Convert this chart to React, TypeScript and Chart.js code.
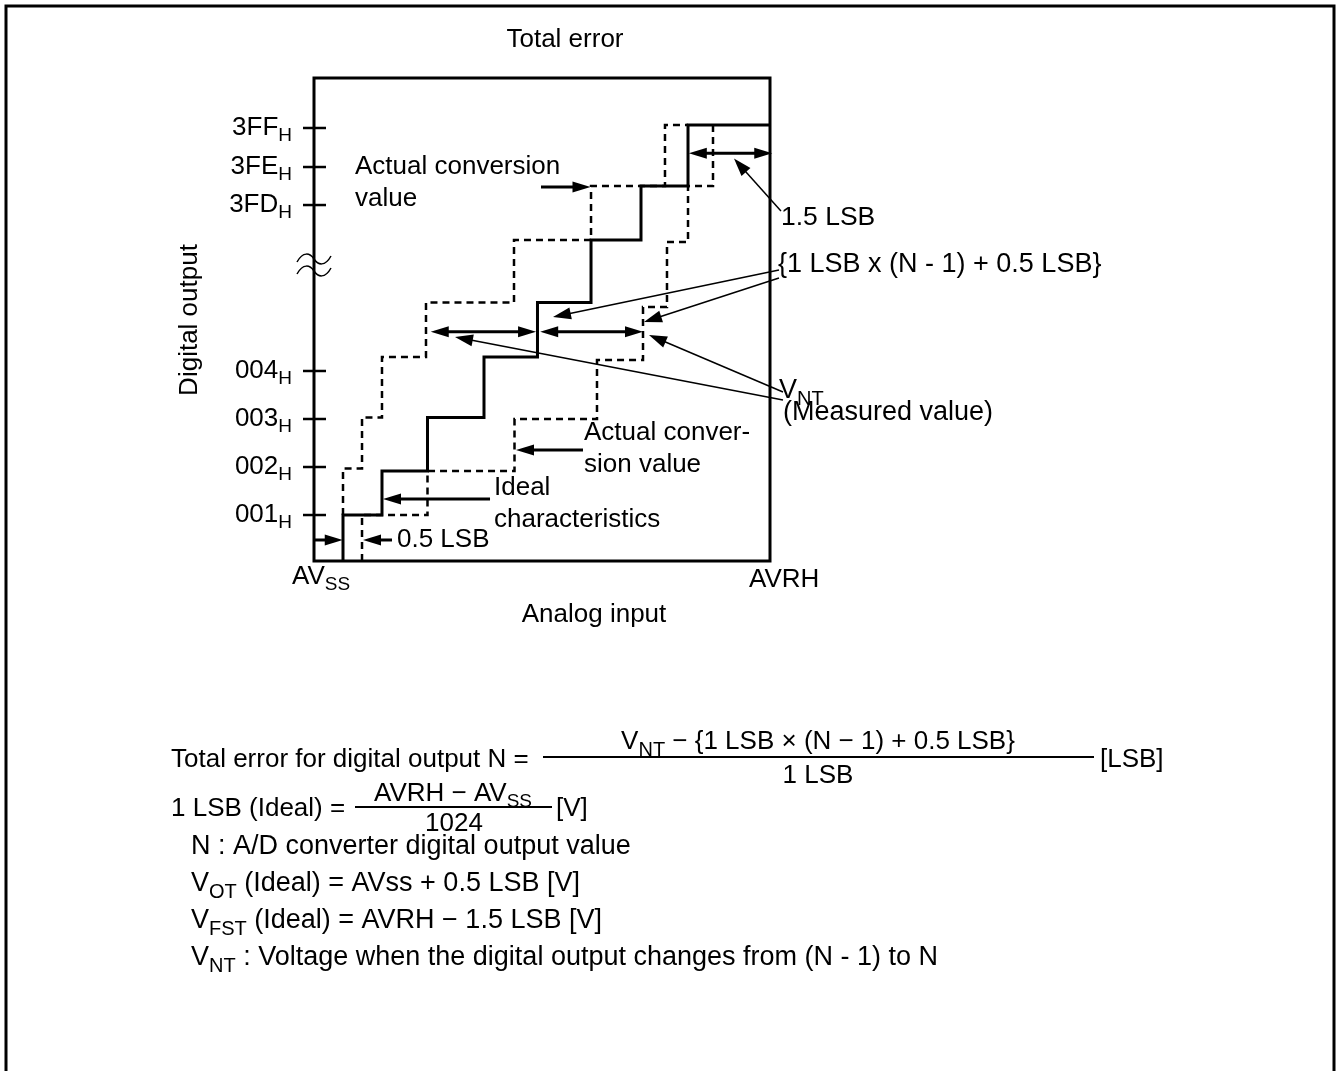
import React, { useEffect, useRef } from "react";
import { Chart, registerables } from "chart.js";
Chart.register(...registerables);

const W = 1336;
const H = 1071;

// x: analog input (0 = AVss, 100 = AVRH), y: schematic output-code scale
const X_MIN = 0;
const X_MAX = 100;
const Y_MIN = 0;
const Y_MAX = 10;

// Y-axis code labels and positions
const codeLabels = ["001", "002", "003", "004", "3FD", "3FE", "3FF"];
const codeValues = [0.952, 1.946, 2.94, 3.934, 7.37, 8.157, 8.965];

// Ideal characteristics (solid staircase): transition inputs / output levels
const idealX = [6.36, 14.91, 24.89, 37.28, 49.01, 60.75, 71.71, 82.02, 100];
const idealY = [0, 0.952, 1.863, 2.971, 4.224, 5.352, 6.646, 7.764, 9.027];

// Actual conversion value, upper-left (dashed)
const upperX = [6.36, 10.53, 14.91, 24.56, 43.86, 60.75, 76.97, 82.02];
const upperY = [0.952, 1.913, 2.971, 4.224, 5.352, 6.646, 7.764, 9.027];

// Actual conversion value, lower-right (dashed)
const lowerX = [10.53, 24.89, 43.97, 62.06, 72.15, 77.41, 82.02, 87.5, 87.5];
const lowerY = [0, 0.952, 1.863, 2.94, 4.161, 5.259, 6.605, 7.764, 9.027];

// Annotation arrows in data coordinates: [x1, y1, x2, y2, headAtStart, headAtEnd, thin]
const arrows: [number, number, number, number, boolean, boolean, boolean][] = [
  [82.2, 8.441, 100.5, 8.441, true, true, false], // 1.5 LSB
  [102.4, 7.246, 92.1, 8.333, false, true, true], // 1.5 LSB leader
  [49.78, 7.743, 60.64, 7.743, false, true, false], // actual conversion value
  [101.97, 6.025, 52.41, 5.052, false, true, true], // {..} leader 1
  [101.97, 5.859, 72.37, 4.948, false, true, true], // {..} leader 2
  [25.6, 4.747, 48.7, 4.747, true, true, false], // double arrow A
  [49.6, 4.747, 72.15, 4.747, true, true, false], // double arrow B
  [102.85, 3.333, 30.92, 4.638, false, true, true], // VNT leader 1
  [102.85, 3.499, 73.46, 4.679, false, true, true], // VNT leader 2
  [58.99, 2.298, 44.3, 2.298, false, true, false], // actual conver- sion value
  [38.6, 1.284, 15.13, 1.284, false, true, false], // ideal characteristics
  [0, 0.435, 6.3, 0.435, false, true, false], // 0.5 LSB right-pointing
  [17.1, 0.435, 10.75, 0.435, false, true, false], // 0.5 LSB left-pointing
];

type Seg = { t: string; sub?: boolean };
const FONT = '"Liberation Sans", Arial, Helvetica, sans-serif';
const SIZE = 26;
const SUB = 19;
const SUBDY = 8;

function segWidth(ctx: CanvasRenderingContext2D, segs: Seg[], size = SIZE, sub = SUB) {
  let w = 0;
  for (const s of segs) {
    ctx.font = `${s.sub ? sub : size}px ${FONT}`;
    w += ctx.measureText(s.t).width;
  }
  return w;
}

function drawRich(
  ctx: CanvasRenderingContext2D,
  segs: Seg[],
  x: number,
  y: number,
  align: "left" | "center" | "right" = "left",
  size = SIZE,
  sub = SUB,
  subDy = SUBDY
) {
  const w = segWidth(ctx, segs, size, sub);
  let cx = align === "left" ? x : align === "center" ? x - w / 2 : x - w;
  ctx.textAlign = "left";
  ctx.textBaseline = "middle";
  for (const s of segs) {
    ctx.font = `${s.sub ? sub : size}px ${FONT}`;
    ctx.fillText(s.t, cx, s.sub ? y + subDy : y);
    cx += ctx.measureText(s.t).width;
  }
}

function head(ctx: CanvasRenderingContext2D, tx: number, ty: number, fx: number, fy: number, len: number, half: number) {
  const a = Math.atan2(ty - fy, tx - fx);
  const c = Math.cos(a);
  const s = Math.sin(a);
  ctx.beginPath();
  ctx.moveTo(tx, ty);
  ctx.lineTo(tx - len * c + half * s, ty - len * s - half * c);
  ctx.lineTo(tx - len * c - half * s, ty - len * s + half * c);
  ctx.closePath();
  ctx.fill();
}

const annotPlugin = {
  id: "annot",
  afterDatasetsDraw(chart: any) {
    const ctx: CanvasRenderingContext2D = chart.ctx;
    const xs = chart.scales.x;
    const ys = chart.scales.y;
    const ca = chart.chartArea;
    const px = (v: number) => xs.getPixelForValue(v);
    const py = (v: number) => ys.getPixelForValue(v);
    ctx.save();
    ctx.strokeStyle = "#000";
    ctx.fillStyle = "#000";

    // outer frame
    ctx.lineWidth = 3;
    ctx.beginPath();
    ctx.moveTo(6, H + 5);
    ctx.lineTo(6, 6);
    ctx.lineTo(1334, 6);
    ctx.lineTo(1334, H + 5);
    ctx.stroke();

    // plot box
    ctx.lineWidth = 3;
    ctx.strokeRect(ca.left, ca.top, ca.right - ca.left, ca.bottom - ca.top);

    // y ticks + labels
    ctx.lineWidth = 2.5;
    codeValues.forEach((v, i) => {
      const y = py(v);
      ctx.beginPath();
      ctx.moveTo(ca.left - 11, y);
      ctx.lineTo(ca.left + 12, y);
      ctx.stroke();
      drawRich(ctx, [{ t: codeLabels[i] }, { t: "H", sub: true }], ca.left - 22, y, "right");
    });

    // axis break symbol
    ctx.lineWidth = 1.5;
    [259, 271].forEach((yy) => {
      const x = ca.left;
      ctx.beginPath();
      ctx.moveTo(x - 17, yy + 3);
      ctx.bezierCurveTo(x - 11, yy - 8, x - 4, yy - 6, x, yy);
      ctx.bezierCurveTo(x + 4, yy + 6, x + 11, yy + 8, x + 17, yy - 3);
      ctx.stroke();
    });

    // arrows
    arrows.forEach(([x1, y1, x2, y2, hs, he, thin]) => {
      const ax = px(x1), ay = py(y1), bx = px(x2), by = py(y2);
      const len = 18;
      const half = thin ? 6 : 5.5;
      const d = Math.hypot(bx - ax, by - ay);
      const ux = (bx - ax) / d, uy = (by - ay) / d;
      const sx = hs ? ax + ux * (len - 2) : ax;
      const sy = hs ? ay + uy * (len - 2) : ay;
      const ex = he ? bx - ux * (len - 2) : bx;
      const ey = he ? by - uy * (len - 2) : by;
      ctx.lineWidth = thin ? 1.5 : 3;
      ctx.beginPath();
      ctx.moveTo(sx, sy);
      ctx.lineTo(ex, ey);
      ctx.stroke();
      if (he) head(ctx, bx, by, ax, ay, len, half);
      if (hs) head(ctx, ax, ay, bx, by, len, half);
    });

    // texts in/around plot
    drawRich(ctx, [{ t: "Total error" }], 565, 40, "center");
    ctx.save();
    ctx.translate(190, 320);
    ctx.rotate(-Math.PI / 2);
    drawRich(ctx, [{ t: "Digital output" }], 0, 0, "center");
    ctx.restore();
    drawRich(ctx, [{ t: "AV" }, { t: "SS", sub: true }], 292, 577, "left");
    drawRich(ctx, [{ t: "AVRH" }], 749, 580, "left");
    drawRich(ctx, [{ t: "Analog input" }], 594, 615, "center");

    drawRich(ctx, [{ t: "Actual conversion" }], 355, 167);
    drawRich(ctx, [{ t: "value" }], 355, 199);
    drawRich(ctx, [{ t: "Actual conver-" }], 584, 433);
    drawRich(ctx, [{ t: "sion value" }], 584, 465);
    drawRich(ctx, [{ t: "Ideal" }], 494, 488);
    drawRich(ctx, [{ t: "characteristics" }], 494, 520);
    drawRich(ctx, [{ t: "0.5 LSB" }], 397, 540);
    drawRich(ctx, [{ t: "1.5 LSB" }], 781, 218, "left", 26.5);
    drawRich(ctx, [{ t: "{1 LSB x (N - 1) + 0.5 LSB}" }], 778, 265, "left", 27);
    drawRich(ctx, [{ t: "V" }, { t: "NT", sub: true }], 779, 391, "left", 27, 20);
    drawRich(ctx, [{ t: "(Measured value)" }], 783, 413, "left", 27);

    // formula block
    drawRich(ctx, [{ t: "Total error for digital output N =" }], 171, 760);
    ctx.lineWidth = 2;
    ctx.beginPath();
    ctx.moveTo(543, 757);
    ctx.lineTo(1094, 757);
    ctx.stroke();
    drawRich(ctx, [{ t: "V" }, { t: "NT", sub: true }, { t: " \u2212 {1 LSB \u00d7 (N \u2212 1) + 0.5 LSB}" }], 818, 742, "center", 26, 20);
    drawRich(ctx, [{ t: "1 LSB" }], 818, 776, "center");
    drawRich(ctx, [{ t: "[LSB]" }], 1100, 760);

    drawRich(ctx, [{ t: "1 LSB (Ideal) = " }], 171, 809);
    ctx.beginPath();
    ctx.moveTo(355, 807);
    ctx.lineTo(552, 807);
    ctx.stroke();
    drawRich(ctx, [{ t: "AVRH \u2212 AV" }, { t: "SS", sub: true }], 453, 794, "center");
    drawRich(ctx, [{ t: "1024" }], 454, 824, "center");
    drawRich(ctx, [{ t: "[V]" }], 556, 809);

    drawRich(ctx, [{ t: "N : A/D converter digital output value" }], 191, 847, "left", 27);
    drawRich(ctx, [{ t: "V" }, { t: "OT", sub: true }, { t: " (Ideal) = AVss + 0.5 LSB [V]" }], 191, 884, "left", 27, 20);
    drawRich(ctx, [{ t: "V" }, { t: "FST", sub: true }, { t: " (Ideal) = AVRH \u2212 1.5 LSB [V]" }], 191, 921, "left", 27, 20);
    drawRich(ctx, [{ t: "V" }, { t: "NT", sub: true }, { t: " : Voltage when the digital output changes from (N - 1) to N" }], 191, 958, "left", 27, 20);

    ctx.restore();
  },
};

function pts(xs: number[], ys: number[]) {
  return xs.map((x, i) => ({ x, y: ys[i] }));
}

export default function App() {
  const ref = useRef<HTMLCanvasElement | null>(null);
  useEffect(() => {
    if (!ref.current) return;
    const chart = new Chart(ref.current, {
      type: "line",
      data: {
        datasets: [
          {
            label: "Actual conversion value (upper)",
            data: pts(upperX, upperY),
            borderColor: "#000",
            borderWidth: 2.5,
            borderDash: [7, 5],
            stepped: "after",
            pointRadius: 0,
            fill: false,
          },
          {
            label: "Actual conversion value (lower)",
            data: pts(lowerX, lowerY),
            borderColor: "#000",
            borderWidth: 2.5,
            borderDash: [7, 5],
            stepped: "after",
            pointRadius: 0,
            fill: false,
          },
          {
            label: "Ideal characteristics",
            data: pts(idealX, idealY),
            borderColor: "#000",
            borderWidth: 3,
            stepped: "after",
            pointRadius: 0,
            fill: false,
          },
        ],
      },
      options: {
        responsive: false,
        animation: false,
        devicePixelRatio: 1,
        layout: { padding: { left: 314, top: 78, right: W - 770, bottom: H - 561 } },
        scales: {
          x: { type: "linear", min: X_MIN, max: X_MAX, display: false },
          y: { type: "linear", min: Y_MIN, max: Y_MAX, display: false },
        },
        plugins: { legend: { display: false }, tooltip: { enabled: false } },
      },
      plugins: [annotPlugin],
    } as any);
    return () => chart.destroy();
  }, []);
  return (
    <div style={{ position: "absolute", left: 0, top: 0, width: W, height: H, background: "#fff" }}>
      <canvas ref={ref} width={W} height={H} style={{ display: "block", width: W, height: H }} />
    </div>
  );
}
